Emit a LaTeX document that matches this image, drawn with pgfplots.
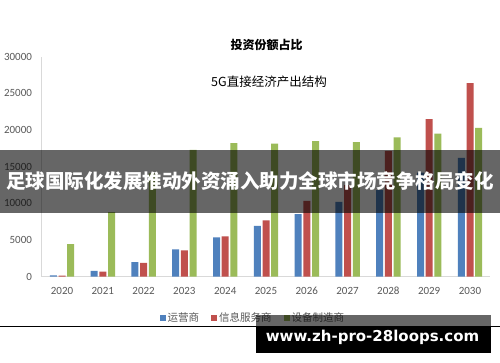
\documentclass[border=0pt]{standalone}
\usepackage{pgfplots}
\pgfplotsset{compat=1.18}
\usepackage{fontspec}
\setmainfont{Carlito}
\newfontfamily\cjk{Noto Sans CJK SC}
\newfontfamily\wm{DejaVu Sans}
\definecolor{cblue}{HTML}{4F81BD}
\definecolor{cred}{HTML}{C0504D}
\definecolor{cgreen}{HTML}{9BBB59}
\definecolor{lab}{HTML}{595959}
\definecolor{axg}{HTML}{D9D9D9}
\begin{document}
\begin{tikzpicture}
\path[use as bounding box, fill=white] (0,0) rectangle (500pt,362pt);
\begin{axis}[
  anchor=south west, at={(41.6pt,85.3pt)},
  scale only axis, width=448.8pt, height=220pt,
  xmin=2019.5, xmax=2030.5, ymin=0, ymax=30000,
  axis x line*=bottom, axis y line*=left,
  axis line style={axg, line width=0.8pt, -},
  major tick length=0pt,
  xtick={2020,...,2030}, ytick={0,5000,...,30000},
  /pgf/number format/1000 sep={},
  /pgf/number format/assume math mode=true,
  tick label style={font=\fontsize{11}{13}\selectfont, text=lab, inner sep=0pt},
  xticklabel style={anchor=north, yshift=-10pt},
  yticklabel style={anchor=east, xshift=-9.5pt},
  scaled y ticks=false,
  ybar, bar width=7pt,
  legend columns=3,
  legend style={at={(0.471,-0.188)}, anchor=center, draw=none, fill=none,
    font=\cjk\fontsize{10.5}{12}\selectfont, text=lab,
    /tikz/every even column/.append style={column sep=10pt}},
  legend image code/.code={\fill[#1,draw=none] (0pt,-3pt) rectangle (6pt,3pt);},
]
\addplot[fill=cblue, draw=none, bar shift=-8.7pt] coordinates {
(2020,180) (2021,780) (2022,2000) (2023,3740) (2024,5370) (2025,6920)
(2026,8530) (2027,10200) (2028,11800) (2029,14200) (2030,16200)};
\addlegendentry{运营商}
\addplot[fill=cred, draw=none, bar shift=0pt] coordinates {
(2020,150) (2021,690) (2022,1900) (2023,3600) (2024,5500) (2025,7690)
(2026,10330) (2027,12500) (2028,17150) (2029,21500) (2030,26400)};
\addlegendentry{信息服务商}
\addplot[fill=cgreen, draw=none, bar shift=8.7pt] coordinates {
(2020,4450) (2021,8800) (2022,14100) (2023,17300) (2024,18200) (2025,18150)
(2026,18500) (2027,18350) (2028,19000) (2029,19500) (2030,20300)};
\addlegendentry{设备制造商}
\end{axis}
\node[font=\cjk\bfseries\fontsize{12}{14}\selectfont] at (266.7pt,317pt) {投资份额占比};
\node[font=\cjk\fontsize{12.5}{14}\selectfont] at (269pt,280pt) {5G直接经济产出结构};
% banner
\fill[black, opacity=0.6] (0pt,149.3pt) rectangle (500pt,212pt);
\node[font=\cjk\bfseries\fontsize{19.5}{22}\selectfont, text=white] at (250pt,181pt) {足球国际化发展推动外资涌入助力全球市场竞争格局变化};
% bottom line and watermark
\draw[black, line width=0.8pt] (0pt,36pt) -- (500pt,36pt);
\fill[black, opacity=0.6] (256pt,36pt) rectangle (491pt,47pt);
\fill[black] (256pt,9.3pt) rectangle (491pt,36pt);
\node[font=\wm\bfseries\fontsize{15}{17}\selectfont, text=white] at (372.5pt,25pt) {www.zh-pro-28loops.com};
\end{tikzpicture}
\end{document}
